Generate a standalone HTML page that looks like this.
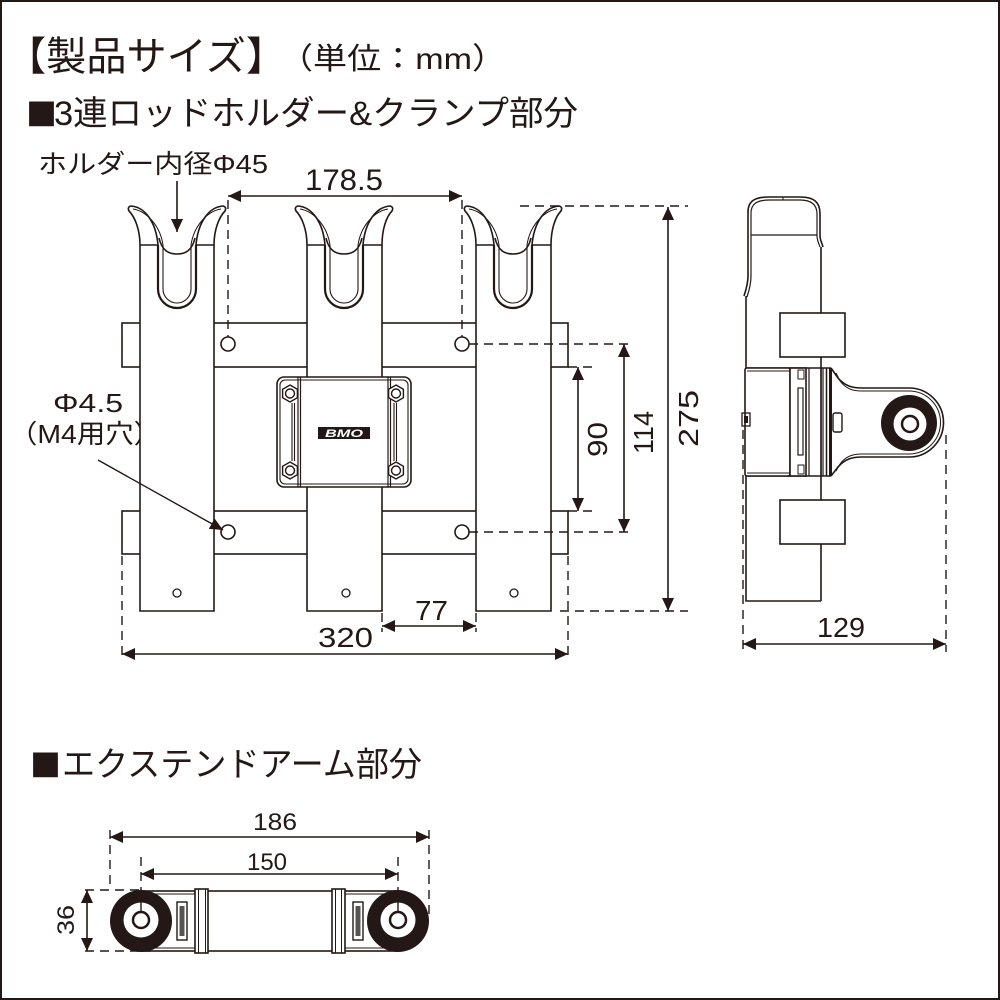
<!DOCTYPE html>
<html><head><meta charset="utf-8"><style>
html,body{margin:0;padding:0;background:#fff;}
svg{display:block;}
text{font-family:"Liberation Sans","Noto Sans CJK JP",sans-serif;fill:#231815;}
.sq{font-family:"Noto Sans CJK JP","Liberation Sans",sans-serif;}
</style></head><body>
<svg width="1000" height="1000" viewBox="0 0 1000 1000" xmlns="http://www.w3.org/2000/svg">
<defs>
<marker id="ah" viewBox="0 0 13 12" refX="13" refY="6" markerWidth="13" markerHeight="12" markerUnits="userSpaceOnUse" orient="auto-start-reverse"><path d="M0,0 L13,6 L0,12 z" fill="#231815"/></marker>
</defs>
<rect x="1" y="1" width="998" height="998" fill="#fff" stroke="#231815" stroke-width="2"/>

<!-- Titles -->
<text x="6" y="70" font-size="40" textLength="280" lengthAdjust="spacingAndGlyphs">【製品サイズ】</text>
<text x="279" y="69" font-size="30" textLength="227" lengthAdjust="spacingAndGlyphs">（単位：mm）</text>
<text class="sq" x="26" y="126" font-size="31">■</text>
<text x="54" y="125" font-size="34" textLength="524" lengthAdjust="spacingAndGlyphs">3連ロッドホルダー&amp;クランプ部分</text>
<text x="38" y="173" font-size="26" textLength="230" lengthAdjust="spacingAndGlyphs">ホルダー内径Φ45</text>
<text x="305" y="190" font-size="30" textLength="78" lengthAdjust="spacingAndGlyphs">178.5</text>
<text x="53" y="412" font-size="26" textLength="70" lengthAdjust="spacingAndGlyphs">Φ4.5</text>
<text x="9" y="443" font-size="26" textLength="153" lengthAdjust="spacingAndGlyphs">（M4用穴）</text>

<g stroke="#231815" stroke-width="1.6" fill="none">
<!-- crossbars -->
<rect x="122" y="323" width="446" height="44" fill="#fff"/>
<rect x="122" y="511" width="446" height="43" fill="#fff"/>
</g>

<!-- holders -->
<g stroke="#231815" stroke-width="1.6" fill="none">
<g transform="translate(140,0)">
<rect x="0" y="245" width="74" height="366" fill="#fff" stroke="none"/>
<path d="M0,245 L0,611 L74,611 L74,245"/>
<path d="M0,245 H18 M56,245 H74"/>
<path d="M0,245 C0,230 -5,217 -11,211 Q-13,207 -9,206 C5,207 16,222 18,245"/>
<path d="M-7,209 C6,211 20,225 23,245" stroke-width="1"/>
<path d="M74,245 C74,230 79,217 85,211 Q87,207 83,206 C69,207 58,222 56,245"/>
<path d="M81,209 C68,211 54,225 51,245" stroke-width="1"/>
<path d="M19,238 C22,251 29,254 37,254 C45,254 52,251 55,238"/>
<path d="M18,245 L18,289 A19,19 0 0 0 56,289 L56,245" stroke-width="2.2"/>
<path d="M23,245 L23,289 A14,14 0 0 0 51,289 L51,245" stroke-width="1.1"/>
</g>
<g transform="translate(307,0)">
<rect x="0" y="245" width="75" height="366" fill="#fff" stroke="none"/>
<path d="M0,245 L0,611 L75,611 L75,245"/>
<path d="M0,245 H18 M56,245 H75"/>
<path d="M0,245 C0,230 -5,217 -11,211 Q-13,207 -9,206 C5,207 16,222 18,245"/>
<path d="M-7,209 C6,211 20,225 23,245" stroke-width="1"/>
<path d="M75,245 C75,230 79,217 85,211 Q87,207 83,206 C69,207 58,222 56,245"/>
<path d="M81,209 C68,211 54,225 51,245" stroke-width="1"/>
<path d="M19,238 C22,251 29,254 37,254 C45,254 52,251 55,238"/>
<path d="M18,245 L18,289 A19,19 0 0 0 56,289 L56,245" stroke-width="2.2"/>
<path d="M23,245 L23,289 A14,14 0 0 0 51,289 L51,245" stroke-width="1.1"/>
</g>
<g transform="translate(476,0)">
<rect x="0" y="245" width="75" height="366" fill="#fff" stroke="none"/>
<path d="M0,245 L0,611 L75,611 L75,245"/>
<path d="M0,245 H18 M56,245 H75"/>
<path d="M0,245 C0,230 -5,217 -11,211 Q-13,207 -9,206 C5,207 16,222 18,245"/>
<path d="M-7,209 C6,211 20,225 23,245" stroke-width="1"/>
<path d="M75,245 C75,230 79,217 85,211 Q87,207 83,206 C69,207 58,222 56,245"/>
<path d="M81,209 C68,211 54,225 51,245" stroke-width="1"/>
<path d="M19,238 C22,251 29,254 37,254 C45,254 52,251 55,238"/>
<path d="M18,245 L18,289 A19,19 0 0 0 56,289 L56,245" stroke-width="2.2"/>
<path d="M23,245 L23,289 A14,14 0 0 0 51,289 L51,245" stroke-width="1.1"/>
</g>

<!-- holes -->
<circle cx="228" cy="344" r="7" fill="#fff"/>
<circle cx="462" cy="344" r="7" fill="#fff"/>
<circle cx="228" cy="532" r="7" fill="#fff"/>
<circle cx="462" cy="532" r="7" fill="#fff"/>
<circle cx="177" cy="593" r="4" stroke-width="1.3"/>
<circle cx="346" cy="593" r="4" stroke-width="1.3"/>
<circle cx="514" cy="593" r="4" stroke-width="1.3"/>

<!-- clamp box -->
<rect x="277" y="377" width="134" height="110" rx="7" fill="#fff"/>
<rect x="280" y="380" width="128" height="104" rx="5" stroke-width="1.1"/>
<path d="M298,377 V487 M300.5,377 V487 M388,377 V487 M390.5,377 V487" stroke-width="1.2"/>
<path d="M292,403 V461 M294.5,403 V461 M394,403 V461 M396.5,403 V461" stroke-width="1.1"/>
<g stroke-width="1.4" fill="#fff">
<polygon points="290,385 297.4,389.3 297.4,397.7 290,402 282.6,397.7 282.6,389.3"/>
<polygon points="290,462 297.4,466.3 297.4,474.7 290,479 282.6,474.7 282.6,466.3"/>
<polygon points="396,385 403.4,389.3 403.4,397.7 396,402 388.6,397.7 388.6,389.3"/>
<polygon points="396,462 403.4,466.3 403.4,474.7 396,479 388.6,474.7 388.6,466.3"/>
<circle cx="290" cy="393.5" r="4.5"/>
<circle cx="290" cy="470.5" r="4.5"/>
<circle cx="396" cy="393.5" r="4.5"/>
<circle cx="396" cy="470.5" r="4.5"/>
</g>
<rect x="318" y="427" width="52" height="12" fill="#231815" stroke="none"/>
</g>
<text x="344" y="437" font-size="11" font-weight="bold" font-style="italic" text-anchor="middle" textLength="38" lengthAdjust="spacingAndGlyphs" style="fill:#fff">BMO</text>

<!-- side view -->
<g stroke="#231815" stroke-width="1.6" fill="none">
<path d="M744,296 C746,290 748,283 748,276 L748,212 C748,200 756,197 770,197 L800,197 C814,197 820,202 820,214 L820,236 C820,240 822,243 823,247"/>
<path d="M747,297 C749,291 751,284 751,276 L751,213 C751,203 758,200 770,200 L800,200 C812,200 817,205 817,214 L817,236 C817,240 819,244 820,247" stroke-width="1.2"/>
<path d="M751,235 H817" stroke-width="1.3"/>
<path d="M783,197 V200" stroke-width="1"/>
<path d="M746,296 V368"/>
<path d="M821,247 V601"/>
<rect x="780" y="313" width="65" height="44" fill="#fff"/>
<!-- clamp -->
<path d="M831,368 L838,378 C845,386 852,388 862,388 L909,388 A34.5,34.5 0 0 1 909,457 L862,457 C852,457 845,459 838,467 L831,476" fill="#fff"/>
<path d="M836,373 L840,381 C846,389 853,391 862,391 L909,391 A31.5,31.5 0 0 1 909,454 L862,454 C853,454 846,456 840,464 L836,471" stroke-width="1"/>
<path d="M747,368 H831 M747,476 H831"/>
<rect x="745" y="368" width="45" height="108" rx="2" fill="#fff"/>
<path d="M747,371 H790 M747,473 H790" stroke-width="1"/>
<rect x="790" y="368" width="16" height="108" fill="#fff"/>
<rect x="798" y="388" width="5" height="67" stroke-width="1.2"/>
<rect x="798" y="370" width="6" height="9" stroke-width="1"/>
<rect x="798" y="465" width="6" height="9" stroke-width="1"/>
<path d="M809,368 V476 M821,368 V476 M823,368 V476" stroke-width="1.2"/>
<path d="M826.5,368 V476" stroke-width="1.5"/>
<path d="M830.5,368 V476" stroke-width="3"/>
<rect x="833" y="413" width="9" height="19" rx="2" fill="#fff" stroke-width="1.4"/>
<rect x="742" y="413" width="8" height="13" stroke-width="1.3"/>
<rect x="744" y="416" width="4" height="7" fill="#231815" stroke="none"/>
<circle cx="909" cy="423" r="28" fill="#231815" stroke="none"/>
<circle cx="910" cy="424" r="16.5" fill="#fff" stroke="none"/>
<circle cx="910" cy="424" r="8" stroke-width="2.5"/>
<!-- lower body -->
<path d="M746,476 V601 H821"/>
<rect x="780" y="500" width="65" height="44" fill="#fff"/>
</g>

<!-- extend arm -->
<g stroke="#231815" stroke-width="1.6" fill="none">
<rect x="141" y="891" width="257" height="60" fill="#fff"/>
<path d="M141,894 H195 M141,948 H195 M345,894 H398 M345,948 H398" stroke-width="1"/>
<rect x="195" y="889" width="13" height="64" fill="#fff"/>
<path d="M198.5,889 V953 M205.5,889 V953" stroke-width="1"/>
<rect x="332" y="889" width="13" height="64" fill="#fff"/>
<path d="M335.5,889 V953 M341.5,889 V953" stroke-width="1"/>
<rect x="177" y="902" width="10" height="38" stroke-width="1.4"/>
<rect x="179.5" y="906" width="5" height="30" fill="#555" stroke="none"/>
<rect x="353" y="902" width="10" height="38" stroke-width="1.4"/>
<rect x="355.5" y="906" width="5" height="30" fill="#555" stroke="none"/>
<circle cx="141" cy="921" r="31" fill="#231815" stroke="none"/>
<circle cx="141" cy="920" r="17.5" fill="#fff" stroke="none"/>
<circle cx="141" cy="920" r="8" stroke-width="2.5"/>
<circle cx="398" cy="921" r="31" fill="#231815" stroke="none"/>
<circle cx="398" cy="920" r="17.5" fill="#fff" stroke="none"/>
<circle cx="398" cy="920" r="8" stroke-width="2.5"/>
</g>

<!-- dashed extension lines -->
<g stroke="#231815" stroke-width="1.4" fill="none" stroke-dasharray="9 6">
<path d="M228,200 V337"/>
<path d="M462,200 V337"/>
<path d="M520,206 H688"/>
<path d="M560,611 H688"/>
<path d="M469,344 H630"/>
<path d="M469,532 H630"/>
<path d="M568,367 H596"/>
<path d="M568,511 H596"/>
<path d="M122,556 V660"/>
<path d="M568,556 V660"/>
<path d="M382,613 V632"/>
<path d="M476,613 V632"/>
<path d="M743,430 V652"/>
<path d="M946,435 V652"/>
<path d="M110,830 V890"/>
<path d="M429,830 V916"/>
<path d="M141,857 V916"/>
<path d="M398,857 V916"/>
<path d="M85,890 H140"/>
<path d="M85,951 H150"/>
</g>

<!-- dimension arrows -->
<g stroke="#231815" stroke-width="1.6" fill="none">
<line x1="228" y1="196" x2="462" y2="196" marker-start="url(#ah)" marker-end="url(#ah)"/>
<line x1="177" y1="181" x2="177" y2="232" marker-end="url(#ah)"/>
<line x1="668" y1="207" x2="668" y2="611" marker-start="url(#ah)" marker-end="url(#ah)"/>
<line x1="624" y1="344" x2="624" y2="532" marker-start="url(#ah)" marker-end="url(#ah)"/>
<line x1="578" y1="367" x2="578" y2="511" marker-start="url(#ah)" marker-end="url(#ah)"/>
<line x1="122" y1="654" x2="568" y2="654" marker-start="url(#ah)" marker-end="url(#ah)"/>
<line x1="382" y1="626" x2="476" y2="626" marker-start="url(#ah)" marker-end="url(#ah)"/>
<line x1="743" y1="644" x2="946" y2="644" marker-start="url(#ah)" marker-end="url(#ah)"/>
<line x1="110" y1="837" x2="429" y2="837" marker-start="url(#ah)" marker-end="url(#ah)"/>
<line x1="141" y1="874" x2="398" y2="874" marker-start="url(#ah)" marker-end="url(#ah)"/>
<line x1="87" y1="890" x2="87" y2="951" marker-start="url(#ah)" marker-end="url(#ah)"/>
<line x1="98" y1="460" x2="223" y2="530" stroke-width="1.4" marker-end="url(#ah)"/>
</g>

<!-- dimension labels -->
<text x="318" y="647" font-size="28" textLength="55" lengthAdjust="spacingAndGlyphs">320</text>
<text x="415" y="620" font-size="28" textLength="33" lengthAdjust="spacingAndGlyphs">77</text>
<text x="817" y="637" font-size="28" textLength="48" lengthAdjust="spacingAndGlyphs">129</text>
<text transform="translate(698,447) rotate(-90)" font-size="28" textLength="57" lengthAdjust="spacingAndGlyphs">275</text>
<text transform="translate(653,454) rotate(-90)" font-size="28" textLength="43" lengthAdjust="spacingAndGlyphs">114</text>
<text transform="translate(607,457) rotate(-90)" font-size="28" textLength="35" lengthAdjust="spacingAndGlyphs">90</text>
<text class="sq" x="30" y="777" font-size="31">■</text>
<text x="62" y="776" font-size="34" textLength="360" lengthAdjust="spacingAndGlyphs">エクステンドアーム部分</text>
<text x="253" y="830" font-size="24" textLength="44" lengthAdjust="spacingAndGlyphs">186</text>
<text x="247" y="870" font-size="24" textLength="40" lengthAdjust="spacingAndGlyphs">150</text>
<text transform="translate(74,935) rotate(-90)" font-size="24" textLength="30" lengthAdjust="spacingAndGlyphs">36</text>
</svg>
</body></html>
